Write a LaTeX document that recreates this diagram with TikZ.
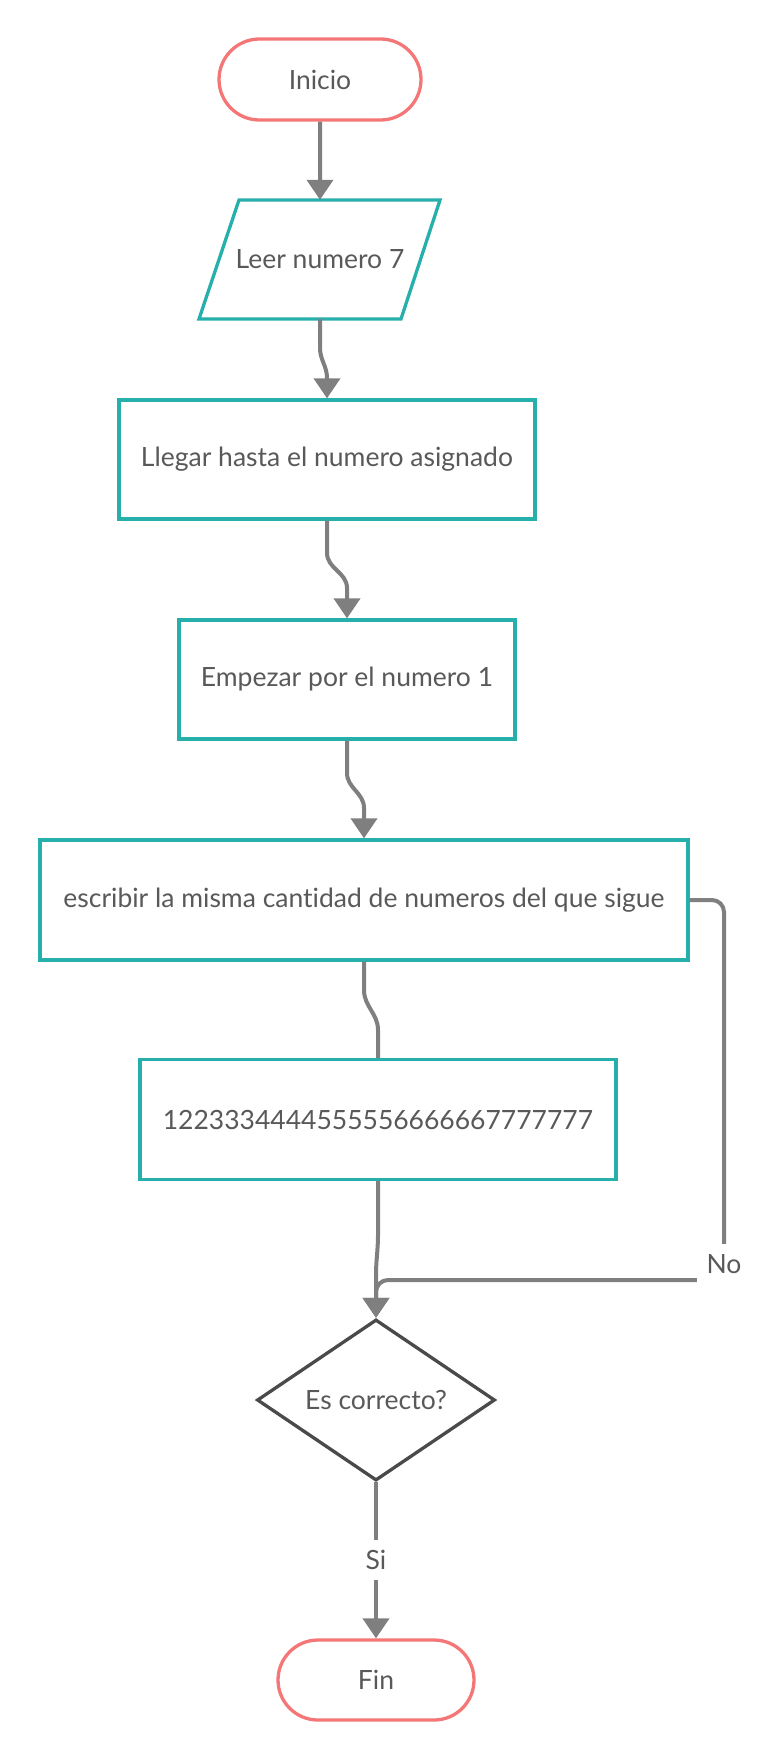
\documentclass[tikz,border=0pt]{standalone}
\usepackage{fontspec}
\setmainfont{Lato}[Ligatures=NoCommon]
\usetikzlibrary{arrows.meta,shapes.geometric,shapes.misc}
\definecolor{coralline}{HTML}{F47676}
\definecolor{boxteal}{HTML}{27AFAB}
\definecolor{linegray}{HTML}{7F7F7F}
\definecolor{txtgray}{HTML}{595959}
\definecolor{diagray}{HTML}{4A4A4A}

\begin{document}
\begin{tikzpicture}[x=1pt, y=-1pt,
    every node/.style={font=\fontsize{26.5}{30}\selectfont, text=txtgray, inner sep=0pt},
    terminal/.style={rounded rectangle, draw=coralline, line width=3.3pt, fill=white},
    proceso/.style={rectangle, draw=boxteal, line width=3.3pt, fill=white, minimum height=119pt},
    entrada/.style={draw=boxteal, line width=3.3pt, fill=white},
    decision/.style={diamond, draw=diagray, line width=3.3pt, fill=white},
    conn/.style={draw=linegray, line width=4pt},
    flecha/.style={conn, -{Triangle[width=26pt,length=20pt]}},
    etiqueta/.style={fill=white, inner sep=10pt}]
        \useasboundingbox (0,0) rectangle (767,1760);
        \node[terminal, minimum width=202pt, minimum height=81pt] (inicio) at (320,79.5) {Inicio};
        \draw[entrada] (239,200) -- (440,200) -- (401,319) -- (199,319) -- cycle;
        \node[minimum width=202pt, minimum height=119pt] (leer) at (320,259.5) {Leer numero 7};
        \node[proceso, minimum width=416pt] (llegar) at (327,459.5) {Llegar hasta el numero asignado};
        \node[proceso, minimum width=336pt] (empezar) at (347,679.5) {Empezar por el numero 1};
        \node[proceso, minimum width=648pt, minimum height=120pt] (escribir) at (364,900) {escribir la misma cantidad de numeros del que sigue};
        \node[proceso, minimum width=476pt, minimum height=120pt] (serie) at (378,1119.5) {1223334444555556666667777777};
        \node[decision, minimum width=238pt, minimum height=160pt] (correcto) at (376,1400) {Es correcto?};
        \node[terminal, minimum width=196pt, minimum height=80pt] (fin) at (376,1680) {Fin};

        \draw[flecha] (inicio) -- (leer);
        \draw[flecha] (leer.south) -- (320,348) to[out=-90,in=90] (327,378) -- (llegar.north);
        \draw[flecha] (llegar.south) -- (327,553) to[out=-90,in=90] (347,588) -- (empezar.north);
        \draw[flecha] (empezar.south) -- (347,773) to[out=-90,in=90] (364,808) -- (escribir.north);
        \draw[conn] (escribir.south) -- (364,990) to[out=-90,in=90] (378,1030) -- (serie.north);
        \draw[flecha] (serie.south) -- (378,1235) to[out=-90,in=90] (376,1275) -- (correcto.north);
        \draw[flecha, rounded corners=12pt] (escribir.east) -- (724,900) -- (724,1280) -- (376,1280) -- (correcto.north);
        \node[etiqueta] (no) at (724,1264) {No};
        \draw[flecha] (correcto.south) -- (fin.north);
        \node[etiqueta] (si) at (376,1560) {Si};
\end{tikzpicture}
\end{document}
